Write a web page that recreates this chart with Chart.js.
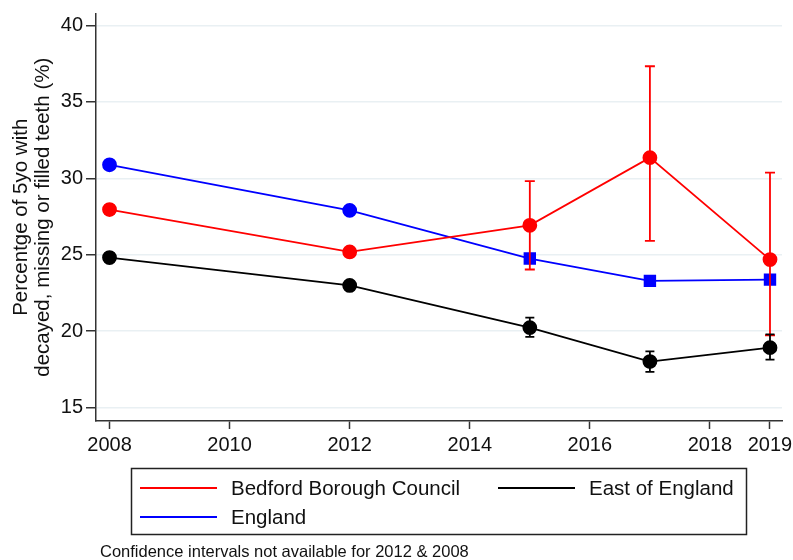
<!DOCTYPE html>
<html>
<head>
<meta charset="utf-8">
<script src="https://cdn.jsdelivr.net/npm/chart.js@4"></script>
<style>
  body { margin: 0; background: #fff; }
  #wrap { width: 793px; height: 560px; position: relative; }
</style>
</head>
<body>
<div id="wrap"><canvas id="chart"></canvas></div>
<script>
// data
const years = [2008, 2012, 2015, 2017, 2019];
const bedford = [27.95, 25.18, 26.92, 31.35, 24.68];
const bedfordLow = [null, null, 24.03, 25.9, 19.73];
const bedfordHigh = [null, null, 29.81, 37.33, 30.37];
const england = [30.88, 27.9, 24.75, 23.29, 23.37];
const englandStyle = ['circle', 'circle', 'rect', 'rect', 'rect'];
const eastEngland = [24.81, 22.99, 20.23, 18.01, 18.92];
const eastLow = [null, null, 19.62, 17.33, 18.14];
const eastHigh = [null, null, 20.88, 18.68, 19.79];
const xTicks = [2008, 2010, 2012, 2014, 2016, 2018, 2019];
const yTicks = [15, 20, 25, 30, 35, 40];
const footnote = 'Confidence intervals not available for 2012 & 2008';

const FONT = "'Liberation Sans', Arial, Helvetica, sans-serif";
const AXIS = '#333333';

function pts(vals) {
    return years.map((x, i) => ({ x: x, y: vals[i] }));
}

// vertical error bars with caps, placed through the chart scales
const errorBars = {
    id: 'errorBars',
    afterDatasetsDraw(chart) {
        const ctx = chart.ctx;
        const xs = chart.scales.x, ys = chart.scales.y;
        chart.data.datasets.forEach(ds => {
            if (!ds.errLow) return;
            ctx.save();
            ctx.strokeStyle = ds.borderColor;
            ctx.lineWidth = 1.8;
            years.forEach((yr, i) => {
                if (ds.errLow[i] == null) return;
                const px = xs.getPixelForValue(yr);
                const lo = ys.getPixelForValue(ds.errLow[i]);
                const hi = ys.getPixelForValue(ds.errHigh[i]);
                const cap = ds.capWidth / 2;
                ctx.beginPath();
                ctx.moveTo(px, lo); ctx.lineTo(px, hi);
                ctx.moveTo(px - cap, lo); ctx.lineTo(px + cap, lo);
                ctx.moveTo(px - cap, hi); ctx.lineTo(px + cap, hi);
                ctx.stroke();
            });
            ctx.restore();
        });
    }
};

// boxed two-column legend and footnote under the plot
const boxLegend = {
    id: 'boxLegend',
    afterDraw(chart) {
        const ctx = chart.ctx;
        const ds = chart.data.datasets;
        const order = [0, 1, 2]; // column-major: Bedford, England | East
        const slots = [[140, 488], [140, 517], [498, 488]];
        ctx.save();
        ctx.strokeStyle = '#222';
        ctx.lineWidth = 1.5;
        ctx.strokeRect(131.5, 468.5, 615, 66);
        ctx.font = '20.5px ' + FONT;
        ctx.textBaseline = 'middle';
        ctx.fillStyle = '#111';
        order.forEach((di, k) => {
            const [lx, ly] = slots[k];
            ctx.strokeStyle = ds[di].borderColor;
            ctx.lineWidth = 2;
            ctx.beginPath();
            ctx.moveTo(lx, ly); ctx.lineTo(lx + 77, ly);
            ctx.stroke();
            ctx.fillText(ds[di].label, lx + 91, ly + 1);
        });
        ctx.font = '16.5px ' + FONT;
        ctx.fillText(footnote, 100, 552.5);
        ctx.restore();
    }
};

new Chart(document.getElementById('chart'), {
    type: 'line',
    data: {
        datasets: [
            {
                label: 'Bedford Borough Council',
                data: pts(bedford),
                borderColor: '#ff0000',
                backgroundColor: '#ff0000',
                borderWidth: 1.8,
                pointRadius: 6.5,
                pointStyle: 'circle',
                errLow: bedfordLow,
                errHigh: bedfordHigh,
                capWidth: 10
            },
            {
                label: 'England',
                data: pts(england),
                borderColor: '#0000ff',
                backgroundColor: '#0000ff',
                borderWidth: 1.8,
                pointRadius: [6.5, 6.5, 7.5, 7.5, 7.5],
                pointStyle: englandStyle
            },
            {
                label: 'East of England',
                data: pts(eastEngland),
                borderColor: '#000000',
                backgroundColor: '#000000',
                borderWidth: 1.8,
                pointRadius: 6.5,
                pointStyle: 'circle',
                errLow: eastLow,
                errHigh: eastHigh,
                capWidth: 9
            }
        ]
    },
    options: {
        responsive: true,
        maintainAspectRatio: false,
        animation: false,
        layout: { padding: { left: 0, top: 13.5, right: 11, bottom: 99 } },
        plugins: {
            legend: { display: false },
            tooltip: { enabled: false }
        },
        elements: { line: { tension: 0 }, point: { borderWidth: 0 } },
        scales: {
            x: {
                type: 'linear',
                min: 2007.775,
                max: 2019.2,
                afterBuildTicks: s => { s.ticks = xTicks.map(v => ({ value: v })); },
                afterFit: s => { s.height = 40; s.paddingLeft = 0; s.paddingRight = 0; },
                border: { color: AXIS, width: 1.5 },
                grid: { drawOnChartArea: false, tickLength: 8, tickColor: AXIS, tickWidth: 1.5 },
                ticks: {
                    padding: 4,
                    color: '#111',
                    font: { family: FONT, size: 20 },
                    maxRotation: 0,
                    autoSkip: false,
                    callback: v => String(v)
                }
            },
            y: {
                min: 14.12,
                max: 40.78,
                afterBuildTicks: s => { s.ticks = yTicks.map(v => ({ value: v })); },
                afterFit: s => { s.width = 96; s.paddingTop = 0; s.paddingBottom = 0; },
                border: { color: AXIS, width: 1.5 },
                grid: { color: '#e9f0f3', lineWidth: 1.5, tickLength: 10, tickColor: AXIS, tickWidth: 1.5 },
                ticks: {
                    padding: 3,
                    color: '#111',
                    font: { family: FONT, size: 20 }
                },
                title: {
                    display: true,
                    text: ['Percentge of 5yo with', 'decayed, missing or filled teeth (%)'],
                    color: '#111',
                    font: { family: FONT, size: 20.5, lineHeight: 1.05 },
                    padding: { top: 11, bottom: 0 }
                }
            }
        }
    },
    plugins: [errorBars, boxLegend]
});
</script>
</body>
</html>
